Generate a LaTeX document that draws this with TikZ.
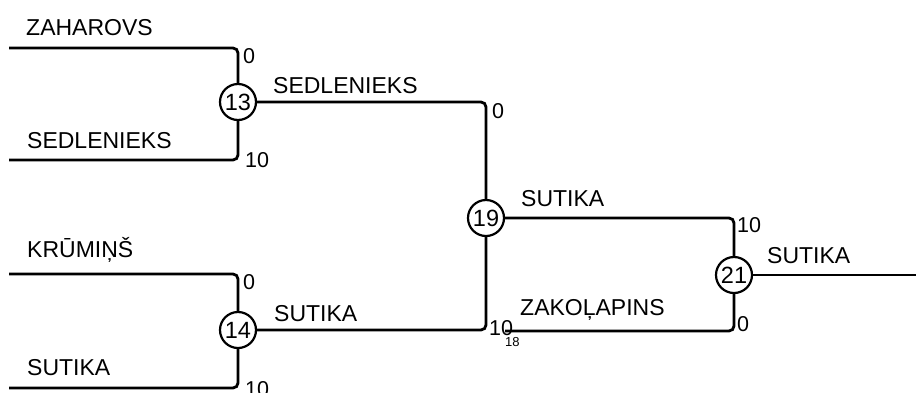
\documentclass[tikz,border=0pt]{standalone}
\usepackage{fontspec}
\setmainfont{Liberation Sans}
\begin{document}
\begin{tikzpicture}[x=1pt,y=-1pt,
  wire/.style={line width=2.8pt,rounded corners=5pt},
  matchnode/.style={circle,draw,line width=2.2pt,minimum size=36pt,inner sep=0pt,font=\fontsize{23.5}{27}\selectfont},
  player/.style={anchor=base west,inner sep=0pt,font=\fontsize{23}{27}\selectfont},
  score/.style={anchor=base west,inner sep=0pt,font=\fontsize{21.5}{25}\selectfont},
  tiny/.style={anchor=base west,inner sep=0pt,font=\fontsize{13}{15}\selectfont}]
\useasboundingbox (0,0) rectangle (916,392);
% match nodes
\node[matchnode] (m13) at (238,102) {13};
\node[matchnode] (m14) at (238,330) {14};
\node[matchnode] (m19) at (486,218) {19};
\node[matchnode] (m21) at (734,275) {21};
% free line ends
\coordinate (zl) at (9,48);
\coordinate (sl) at (9,160);
\coordinate (kl) at (9,274);
\coordinate (ul) at (9,388);
\coordinate (zk) at (505,331);
\coordinate (fin) at (916,275);
% connectors
\draw[wire] (zl) -| (m13.north);
\draw[wire] (sl) -| (m13.south);
\draw[wire] (kl) -| (m14.north);
\draw[wire] (ul) -| (m14.south);
\draw[wire] (m13.east) -| (m19.north);
\draw[wire] (m14.east) -| (m19.south);
\draw[wire] (m19.east) -| (m21.north);
\draw[wire] (zk) -| (m21.south);
\draw[wire] (m21.east) -- (fin);
% player names
\node[player] (t1) at (26,35) {ZAHAROVS};
\node[player] (t2) at (27,148) {SEDLENIEKS};
\node[player] (t3) at (27,257) {KRŪMIŅŠ};
\node[player] (t4) at (27,375) {SUTIKA};
\node[player] (t5) at (273,93) {SEDLENIEKS};
\node[player] (t6) at (274,321) {SUTIKA};
\node[player] (t7) at (521,206) {SUTIKA};
\node[player] (t8) at (520,315) {ZAKOĻAPINS};
\node[player] (t9) at (767,263) {SUTIKA};
% scores
\node[score] (s1) at (243,63) {0};
\node[score] (s2) at (245,167) {10};
\node[score] (s3) at (243,289) {0};
\node[score] (s4) at (245,396) {10};
\node[score] (s5) at (492,118) {0};
\node[score] (s6) at (489,335) {10};
\node[tiny] (s7) at (505,346) {18};
\node[score] (s8) at (737,232) {10};
\node[score] (s9) at (737,331) {0};
\end{tikzpicture}
\end{document}
